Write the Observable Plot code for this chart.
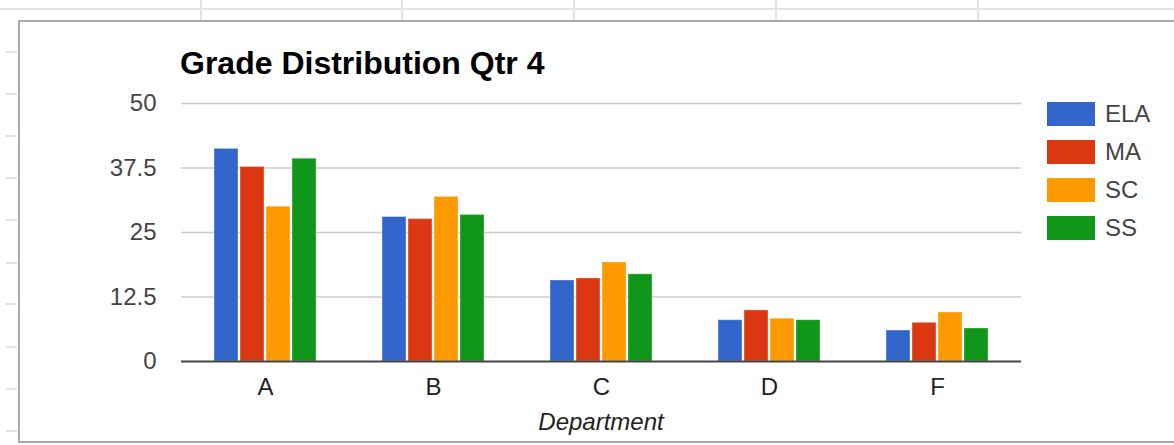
<!DOCTYPE html>
<html>
<head>
<meta charset="utf-8">
<script src="https://cdn.jsdelivr.net/npm/d3@7"></script>
<script src="https://cdn.jsdelivr.net/npm/@observablehq/plot@0.6"></script>
<style>
  html, body { margin: 0; padding: 0; background: #fff; }
  body { width: 1174px; height: 445px; position: relative; overflow: hidden; font-family: "Liberation Sans", Arial, sans-serif; }
  .sheet-h { position: absolute; left: 0; width: 1174px; height: 2px; background: #e3e3e3; }
  .sheet-v { position: absolute; width: 2px; background: #e3e3e3; }
  .sheet-t { position: absolute; left: 6px; width: 11px; height: 2px; background: #e3e3e3; }
  #box { position: absolute; left: 18px; top: 20px; width: 1170px; height: 419px; border: 2px solid #a9a9a9; background: #fff; }
  #chart { position: absolute; left: 0; top: 0; }
  #title { position: absolute; left: 180px; top: 47px; font: bold 32px/32px "Liberation Sans", Arial, sans-serif; color: #000; white-space: nowrap; }
  #xlabel { position: absolute; left: 401px; width: 400px; text-align: center; top: 410px; font: italic 24px/24px "Liberation Sans", Arial, sans-serif; color: #222; }
  #legend { position: absolute; left: 1047px; top: 102px; }
  .row { display: flex; align-items: center; height: 24px; margin-bottom: 14px; }
  .sw { width: 48px; height: 24px; }
  .lb { margin-left: 10px; font: 24px/24px "Liberation Sans", Arial, sans-serif; color: #444; }
</style>
</head>
<body>
<script>
// ---- data ----
const grades = ["A", "B", "C", "D", "F"];
const subjects = ["ELA", "MA", "SC", "SS"];
const ela = [41.2, 28.0, 15.7, 8.0, 6.0];
const ma  = [37.7, 27.6, 16.1, 9.9, 7.5];
const sc  = [30.0, 31.9, 19.2, 8.3, 9.5];
const ss  = [39.3, 28.4, 16.9, 8.0, 6.4];
const yTicks = [0, 12.5, 25, 37.5, 50];
const colors = ["#3366cc", "#dc3912", "#ff9900", "#109618"];
const titleText = "Grade Distribution Qtr 4";
const xLabelText = "Department";

const seriesValues = [ela, ma, sc, ss];
const rows = [];
grades.forEach((g, i) => subjects.forEach((s, j) => rows.push({grade: g, subject: s, value: seriesValues[j][i]})));

// ---- spreadsheet backdrop ----
function addDiv(cls, style) {
  const d = document.createElement("div");
  d.className = cls;
  Object.assign(d.style, style);
  document.body.appendChild(d);
  return d;
}
addDiv("sheet-h", {top: "8px"});
[200, 401, 573, 775, 977].forEach(x => addDiv("sheet-v", {left: x + "px", top: "0px", height: "21px"}));
[51, 93, 135, 177, 219, 262, 303, 346, 388, 430].forEach(y => addDiv("sheet-t", {top: y + "px"}));
addDiv("", {}).id = "box";

// ---- chart ----
const chart = Plot.plot({
  width: 1174,
  height: 445,
  marginLeft: 180,
  marginRight: 152,
  marginTop: 103,
  marginBottom: 84,
  style: {background: "transparent", fontFamily: "Liberation Sans, Arial, sans-serif", fontSize: "24px"},
  fx: {domain: grades, padding: 0},
  x: {domain: subjects, paddingInner: 0.077, paddingOuter: 1.25, axis: null},
  y: {domain: [0, 50], axis: null},
  color: {domain: subjects, range: colors},
  marks: [
    Plot.gridY(yTicks.filter(t => t !== 0), {stroke: "#cccccc", strokeOpacity: 1, strokeWidth: 1.6}),
    Plot.barY(rows, {fx: "grade", x: "subject", y: "value", fill: "subject", stroke: "#ffffff", strokeOpacity: 0.35, strokeWidth: 1}),
    Plot.ruleY([0], {stroke: "#444", strokeWidth: 2}),
    Plot.axisY(yTicks, {tickSize: 0, tickPadding: 25, color: "#444", tickFormat: d => String(d), label: null, fontSize: 24}),
    Plot.axisFx({anchor: "bottom", tickSize: 0, tickPadding: 16, color: "#222", label: null, fontSize: 24})
  ]
});
chart.id = "chart";
document.body.appendChild(chart);

const t = document.createElement("div");
t.id = "title"; t.textContent = titleText;
document.body.appendChild(t);

const xl = document.createElement("div");
xl.id = "xlabel"; xl.textContent = xLabelText;
document.body.appendChild(xl);

const lg = document.createElement("div");
lg.id = "legend";
subjects.forEach((s, i) => {
  const r = document.createElement("div"); r.className = "row";
  const sw = document.createElement("div"); sw.className = "sw"; sw.style.background = colors[i];
  const lb = document.createElement("div"); lb.className = "lb"; lb.textContent = s;
  r.appendChild(sw); r.appendChild(lb); lg.appendChild(r);
});
document.body.appendChild(lg);
</script>
</body>
</html>
